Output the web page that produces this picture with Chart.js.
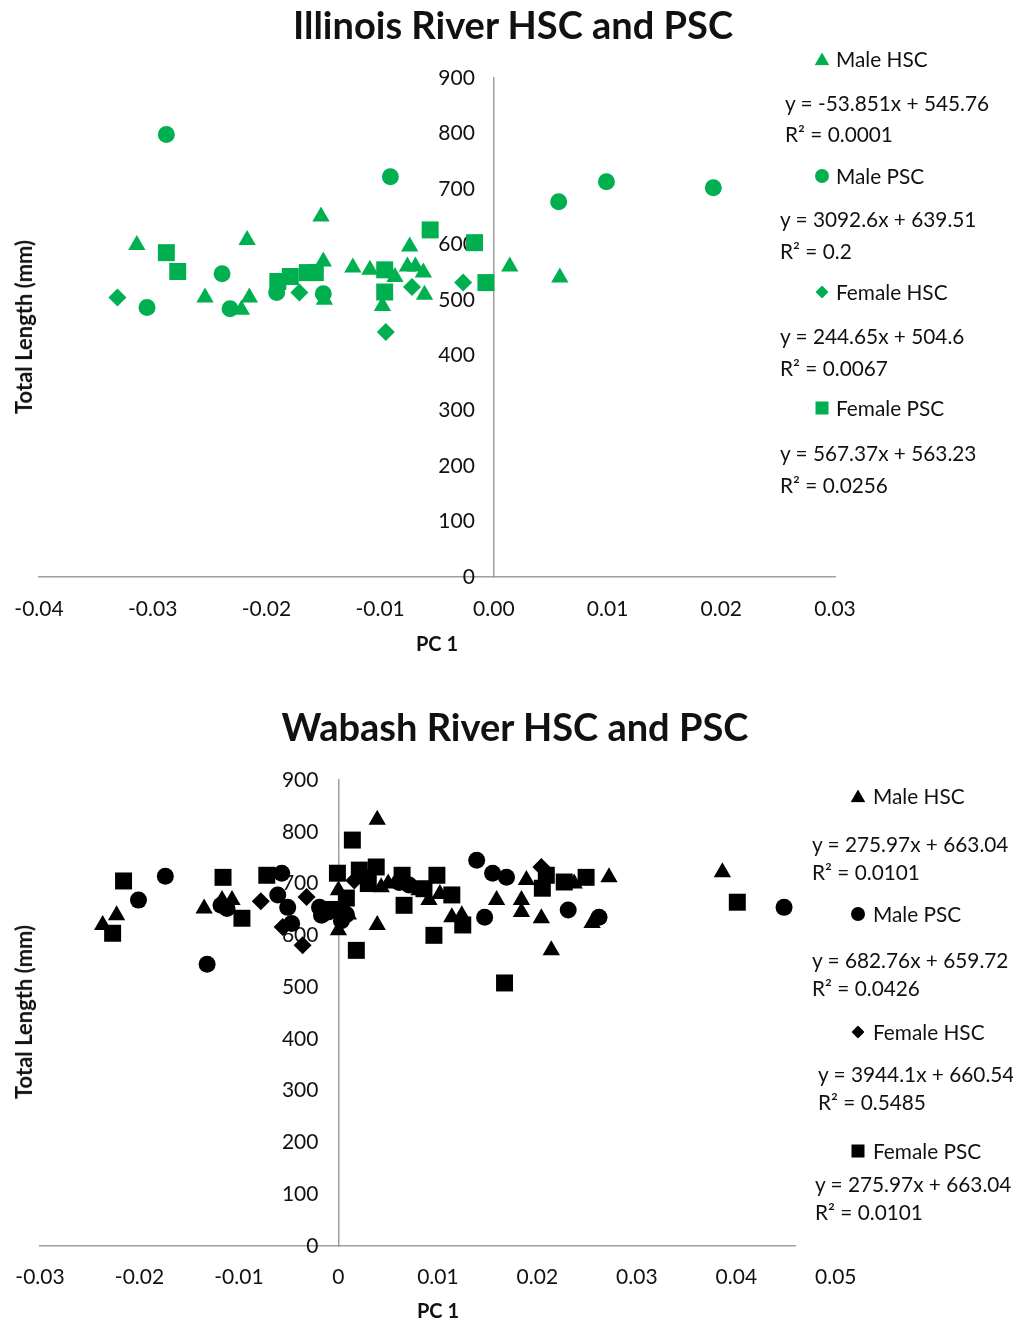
<!DOCTYPE html>
<html>
<head>
<meta charset="utf-8">
<title>Illinois and Wabash River HSC and PSC</title>
<script src="https://cdn.jsdelivr.net/npm/chart.js@4.4.1/dist/chart.umd.min.js"></script>
<style>
  html, body { margin: 0; padding: 0; background: #fff; }
  body { width: 1013px; height: 1321px; position: relative; overflow: hidden; font-family: Lato, "Open Sans", sans-serif; color: #111; }
  canvas { position: absolute; left: 0; }
  .lbl { position: absolute; white-space: nowrap; line-height: 1; }
  .title { font-weight: bold; font-size: 38px; transform: translate(-50%, -50%); }
  .axt { font-weight: bold; font-size: 20px; transform: translate(-50%, -50%); }
  .axt.rot { font-size: 22px; transform: translate(-50%, -50%) rotate(-90deg); }
  .leg { font-size: 20.8px; transform: translateY(-50%); }
  .sym { position: absolute; transform: translate(-50%, -50%); }
</style>
</head>
<body>
<canvas id="illinois" width="1013" height="660" style="top:0"></canvas>
<canvas id="wabash" width="1013" height="661" style="top:660px"></canvas>
<script>
// series order: Male HSC, Male PSC, Female HSC, Female PSC
const seriesNames = ['Male HSC', 'Male PSC', 'Female HSC', 'Female PSC'];

// Illinois River  [PC 1, total length mm]
const ilMaleHSC = [[-0.0314, 599], [-0.0254, 504], [-0.0222, 482], [-0.0215, 504], [-0.0217, 608],
  [-0.0152, 650], [-0.0150, 569], [-0.0149, 500], [-0.0124, 558], [-0.0109, 554], [-0.0098, 489],
  [-0.0087, 541], [-0.0074, 596], [-0.0076, 560], [-0.0069, 560], [-0.0062, 549], [-0.0061, 509],
  [0.0014, 560], [0.0058, 540]];
const ilMalePSC = [[-0.0288, 798], [-0.0305, 486], [-0.0239, 547], [-0.0232, 484], [-0.0191, 513],
  [-0.0150, 511], [-0.0091, 722], [0.0057, 677], [0.0099, 713], [0.0193, 702]];
const ilFemaleHSC = [[-0.0331, 504], [-0.0171, 513], [-0.0095, 442], [-0.0072, 523], [-0.0027, 531]];
const ilFemalePSC = [[-0.0288, 585], [-0.0278, 551], [-0.0190, 533], [-0.0179, 542], [-0.0164, 549],
  [-0.0157, 549], [-0.0096, 554], [-0.0096, 514], [-0.0056, 626], [-0.0017, 603], [-0.0007, 531]];
const ilEquations = ['y = -53.851x + 545.76', 'y = 3092.6x + 639.51', 'y = 244.65x + 504.6', 'y = 567.37x + 563.23'];
const ilR2 = ['R² = 0.0001', 'R² = 0.2', 'R² = 0.0067', 'R² = 0.0256'];
const ilXTicks = [-0.04, -0.03, -0.02, -0.01, 0, 0.01, 0.02, 0.03];
const ilXLabels = ['-0.04', '-0.03', '-0.02', '-0.01', '0.00', '0.01', '0.02', '0.03'];

// Wabash River
const wbMaleHSC = [[-0.0237, 620], [-0.0223, 639], [-0.0135, 652], [-0.0117, 668], [-0.0107, 668],
  [0.0000, 687], [0.0000, 610], [0.0005, 655], [0.0010, 640], [0.0039, 823], [0.0039, 620],
  [0.0043, 693], [0.0050, 700], [0.0081, 687], [0.0091, 668], [0.0102, 680], [0.0114, 635],
  [0.0124, 639], [0.0159, 668], [0.0184, 668], [0.0184, 645], [0.0189, 707], [0.0204, 633],
  [0.0214, 571], [0.0237, 700], [0.0255, 624], [0.0272, 712], [0.0386, 722]];
const wbMalePSC = [[-0.0201, 668], [-0.0174, 714], [-0.0132, 544], [-0.0118, 658], [-0.0112, 652],
  [-0.0057, 720], [-0.0061, 678], [-0.0051, 654], [-0.0047, 623], [-0.0019, 654], [-0.0017, 639],
  [-0.0010, 645], [0.0003, 628], [0.0008, 640], [0.0061, 702], [0.0071, 697], [0.0139, 745],
  [0.0147, 635], [0.0155, 720], [0.0169, 712], [0.0231, 649], [0.0262, 635], [0.0448, 654]];
const wbFemaleHSC = [[-0.0078, 666], [-0.0056, 616], [-0.0036, 581], [-0.0032, 674], [0.0016, 706],
  [0.0028, 712], [0.0204, 732]];
const wbFemalePSC = [[-0.0227, 604], [-0.0216, 705], [-0.0116, 712], [-0.0097, 633], [-0.0072, 716],
  [-0.0008, 650], [-0.0001, 720], [0.0008, 672], [0.0014, 784], [0.0018, 571], [0.0021, 726],
  [0.0030, 700], [0.0038, 732], [0.0064, 716], [0.0066, 658], [0.0086, 690], [0.0096, 600],
  [0.0099, 716], [0.0114, 678], [0.0125, 620], [0.0167, 508], [0.0205, 691], [0.0209, 716],
  [0.0227, 703], [0.0249, 712], [0.0401, 664]];
const wbEquations = ['y = 275.97x + 663.04', 'y = 682.76x + 659.72', 'y = 3944.1x + 660.54', 'y = 275.97x + 663.04'];
const wbR2 = ['R² = 0.0101', 'R² = 0.0426', 'R² = 0.5485', 'R² = 0.0101'];
const wbXTicks = [-0.03, -0.02, -0.01, 0, 0.01, 0.02, 0.03, 0.04, 0.05];
const wbXLabels = ['-0.03', '-0.02', '-0.01', '0', '0.01', '0.02', '0.03', '0.04', '0.05'];
const wbXAxisEnd = 0.0459; // the drawn axis stops short of the last label

const yMin = 0, yMax = 900, yStep = 100;

const GREEN = '#00b050';
const BLACK = '#000000';
const AXIS = '#a0a0a0';

Chart.defaults.font.family = 'Lato, "Open Sans", sans-serif';
Chart.defaults.color = '#111';

const shapes = ['triangle', 'circle', 'rectRot', 'rect'];
const radii = [10, 8.5, 9, 12];

// pad: layout padding, labelGap: px between y axis line and its labels
function makeChart(id, series, colour, xTicks, xLabels, xMin, xMax, pad, xHeight, xPad, labelGap) {
  const datasets = series.map((pts, i) => ({
    label: seriesNames[i],
    data: pts.map(p => ({ x: p[0], y: p[1] })),
    pointStyle: shapes[i],
    pointRadius: radii[i],
    backgroundColor: colour,
    borderWidth: 0,
    order: series.length - i
  }));
  // labels of a crossing axis sit right on the line, so they get their own axis
  // shifted left by labelGap pixels (converted to PC 1 units)
  const plotWidth = 1013 - pad.left - pad.right;
  const labelAt = -labelGap * (xMax - xMin) / plotWidth;
  const flat = s => { s.width = 0; s.paddingTop = 0; s.paddingBottom = 0; };
  return new Chart(document.getElementById(id), {
    type: 'scatter',
    data: { datasets },
    options: {
      responsive: false,
      animation: false,
      events: [],
      layout: { padding: pad },
      plugins: { legend: { display: false }, tooltip: { enabled: false } },
      scales: {
        x: {
          type: 'linear', min: xMin, max: xMax,
          grid: { display: false },
          border: { display: true, color: AXIS, width: 1.5 },
          afterBuildTicks: s => { s.ticks = xTicks.map(v => ({ value: v })); },
          ticks: {
            autoSkip: false, maxRotation: 0, minRotation: 0, padding: xPad,
            font: { size: 21 }, color: '#111',
            callback: (v, i) => xLabels[i]
          },
          afterFit: s => { s.height = xHeight; s.paddingLeft = 0; s.paddingRight = 0; }
        },
        y: {
          type: 'linear', min: yMin, max: yMax,
          position: { x: labelAt },
          grid: { display: false },
          border: { display: false },
          ticks: { stepSize: yStep, font: { size: 21 }, color: '#111' },
          afterFit: flat
        },
        yLine: {
          type: 'linear', axis: 'y', min: yMin, max: yMax,
          position: { x: 0 },
          grid: { display: false },
          border: { display: true, color: AXIS, width: 1.5 },
          ticks: { display: false },
          afterFit: flat
        }
      }
    }
  });
}

makeChart('illinois', [ilMaleHSC, ilMalePSC, ilFemaleHSC, ilFemalePSC], GREEN,
  ilXTicks, ilXLabels, -0.04, 0.03, { left: 39, right: 178, top: 78, bottom: 23 }, 60, 12, 19);
makeChart('wabash', [wbMaleHSC, wbMalePSC, wbFemaleHSC, wbFemalePSC], BLACK,
  wbXTicks, wbXLabels, -0.03, wbXAxisEnd, { left: 40, right: 218, top: 120, bottom: 20 }, 55, 11, 20);

// ---- text around the plots ----
function put(text, cls, x, y) {
  const d = document.createElement('div');
  d.className = 'lbl ' + cls;
  d.textContent = text;
  d.style.left = x + 'px';
  d.style.top = y + 'px';
  document.body.appendChild(d);
  return d;
}
function symbol(i, colour, x, y) {
  const d = document.createElement('div');
  d.className = 'sym';
  const s = [[15, 13], [14, 14], [13, 13], [13, 13]][i];
  d.style.width = s[0] + 'px';
  d.style.height = s[1] + 'px';
  d.style.left = x + 'px';
  d.style.top = y + 'px';
  d.style.background = colour;
  if (i === 0) d.style.clipPath = 'polygon(50% 0, 100% 100%, 0 100%)';
  if (i === 1) d.style.borderRadius = '50%';
  if (i === 2) d.style.clipPath = 'polygon(50% 0, 100% 50%, 50% 100%, 0 50%)';
  document.body.appendChild(d);
}

put('Illinois River HSC and PSC', 'title', 513, 24);
put('Total Length (mm)', 'axt rot', 24, 327);
put('PC 1', 'axt', 437, 643);

put('Wabash River HSC and PSC', 'title', 515, 726);
put('Total Length (mm)', 'axt rot', 24, 1012);
put('PC 1', 'axt', 438, 1310);

// legend block placement (layout only)
const ilLegend = { symX: 822, textX: 836, rows: [59, 176, 292, 408], eqX: [785, 780, 780, 780], eqDy: [44, 43, 44, 45], r2Dy: [75, 75, 76, 77] };
const wbLegend = { symX: 858, textX: 873, rows: [796, 914, 1032, 1151], eqX: [812, 812, 818, 815], eqDy: [48, 46, 42, 33], r2Dy: [76, 74, 70, 61] };

function legend(L, names, eqs, r2s, colour) {
  L.rows.forEach((y, i) => {
    symbol(i, colour, L.symX, y);
    put(names[i], 'leg', L.textX, y);
    put(eqs[i], 'leg', L.eqX[i], y + L.eqDy[i]);
    put(r2s[i], 'leg', L.eqX[i], y + L.r2Dy[i]);
  });
}
legend(ilLegend, seriesNames, ilEquations, ilR2, GREEN);
legend(wbLegend, seriesNames, wbEquations, wbR2, BLACK);
</script>
</body>
</html>
